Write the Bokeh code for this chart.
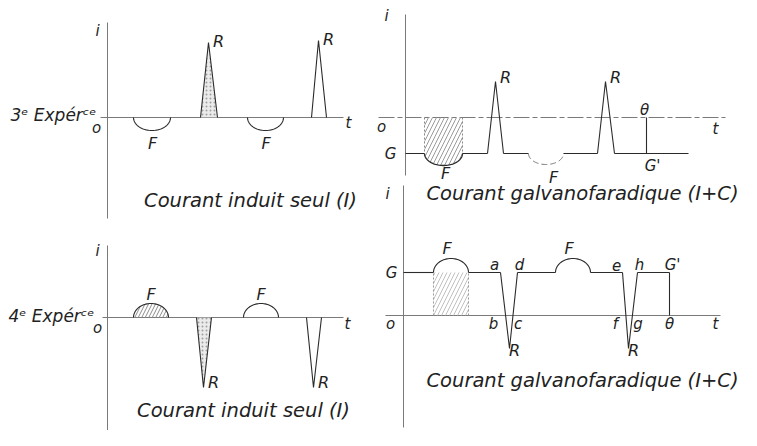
import numpy as np
from bokeh.plotting import figure
from bokeh.models import Range1d
from bokeh.core.properties import value
from bokeh.embed import file_html
from bokeh.resources import INLINE

# ---------------- data (time units, current units) ----------------
# 3e expérience - courant induit seul (I)
p1_F_center = [4.45, 15.8]
p1_F_half = [1.85, 1.8]
p1_F_amp = [-1.3, -1.3]
p1_R_start = [9.3, 20.4]
p1_R_peak = [10.1, 21.1]
p1_R_end = [11.0, 21.9]
p1_R_amp = [7.5, 7.7]
p1_t_axis = [-0.7, 23.6]
p1_i_axis = [-10.1, 9.5]

# 3e expérience - courant galvanofaradique (I+C)
p2_G = -3.6
p2_G_end = 28.3
p2_F_center = [3.8, 14.05]
p2_F_half = [1.9, 1.75]
p2_F_amp = [-1.2, -1.1]
p2_R_start = [8.2, 19.2]
p2_R_peak = [9.0, 20.0]
p2_R_end = [9.8, 20.9]
p2_R_top = [3.6, 3.6]
p2_theta = 24.1
p2_t_axis = [-2.7, 32.0]
p2_i_axis = [-5.8, 10.3]

# 4e expérience - courant induit seul (I)
p3_F_center = [4.35, 15.35]
p3_F_half = [1.75, 1.75]
p3_F_amp = [1.4, 1.4]
p3_R_start = [8.9, 19.9]
p3_R_peak = [9.6, 20.6]
p3_R_end = [10.4, 21.4]
p3_R_amp = [-7.0, -7.0]
p3_t_axis = [-0.5, 23.6]
p3_i_axis = [-12.3, 7.2]

# 4e expérience - courant galvanofaradique (I+C)
p4_G = 4.3
p4_F_center = [4.75, 16.95]
p4_F_half = [1.75, 1.75]
p4_F_amp = [1.4, 1.4]
p4_R_start = [9.7, 21.9]
p4_R_peak = [10.6, 22.5]
p4_R_end = [11.4, 23.4]
p4_R_bottom = [-3.3, -3.3]
p4_theta = 26.6
p4_t_axis = [-1.8, 31.7]
p4_i_axis = [-11.2, 13.0]
p4_R_top_labels = [("a", "d"), ("e", "h")]
p4_R_low_labels = [("b", "c"), ("f", "g")]

# ---------------- figure ----------------
W, H = 741, 430
p = figure(width=W, height=H, output_backend="svg", toolbar_location=None,
           x_range=Range1d(-10.7, 63.4), y_range=Range1d(-31.3, 11.7),
           min_border=0, outline_line_color=None)
p.axis.visible = False
p.grid.visible = False
p.extra_x_ranges = {"R2": Range1d(-40.5, 33.6), "R4": Range1d(-40.3, 33.8)}
p.extra_y_ranges = {"TR": Range1d(-31.3, 11.7), "BL": Range1d(-11.3, 31.7),
                    "BR": Range1d(-11.5, 31.5)}

INK = "#2b2b2b"
AXC = "#7a7a7a"
FONT = value("DejaVu Sans")


def half_ellipse(c, h, base, amp, n=48):
    th = np.linspace(0, np.pi, n)
    return c - h * np.cos(th), base + amp * np.sin(th)


def labels(xs, ys, txt, rn, size="15px", align="center", color="#222"):
    p.text(x=list(xs), y=list(ys), text=list(txt), text_font=FONT,
           text_font_style="italic", text_font_size=size, text_align=align,
           text_baseline="middle", text_color=color, **rn)


def axes(t_axis, i_axis, rn, dash="solid"):
    p.line(t_axis, [0, 0], line_color=AXC, line_width=1, line_dash=dash, **rn)
    p.line([0, 0], i_axis, line_color=AXC, line_width=1, **rn)


# ---------- panel 1 ----------
rn1 = dict(x_range_name="default", y_range_name="default")
axes(p1_t_axis, p1_i_axis, rn1)
for c, h, a in zip(p1_F_center, p1_F_half, p1_F_amp):
    ex, ey = half_ellipse(c, h, 0, a)
    p.line(ex, ey, line_color=INK, line_width=1.1, **rn1)
for k, (s, pk, e, a) in enumerate(zip(p1_R_start, p1_R_peak, p1_R_end, p1_R_amp)):
    if k == 0:
        p.patch([s, pk, e], [0, a, 0], fill_color="#e2e2e2", fill_alpha=0.7,
                hatch_pattern="dot", hatch_color="#a0a0a0", hatch_scale=4,
                line_color=None, **rn1)
    p.line([s, pk, e], [0, a, 0], line_color=INK, line_width=1.1, **rn1)
labels([-1.0, -1.1, 24.1], [8.7, -1.0, -0.5], ["i", "o", "t"], rn1)
labels([c + 0.05 for c in p1_F_center], [a - 1.3 for a in p1_F_amp], ["F", "F"], rn1, "16px")
labels([pk + 1.0 for pk in p1_R_peak], [a + 0.1 for a in p1_R_amp], ["R", "R"], rn1, "16px")
labels([-9.7], [0.3], ["3ᵉ Expérᶜᵉ"], rn1, "17px", align="left")
labels([14.3], [-8.3], ["Courant induit seul (I)"], rn1, "19.5px")

# ---------- panel 2 ----------
rn2 = dict(x_range_name="R2", y_range_name="TR")
axes(p2_t_axis, p2_i_axis, rn2, dash="16 3 5 3")
G = p2_G
# hatched galvanic+faradic region
c, h, a = p2_F_center[0], p2_F_half[0], p2_F_amp[0]
ex, ey = half_ellipse(c, h, G, a)
p.patch(np.concatenate([[c - h], ex, [c + h]]), np.concatenate([[0], ey, [0]]),
        fill_alpha=0, hatch_pattern="/", hatch_color="#9a9a9a", hatch_scale=8,
        hatch_weight=1, line_color=None, **rn2)
for xv in (c - h, c + h):
    p.line([xv, xv], [0, G], line_color="#888", line_dash="2 2", **rn2)
# signal at level G
segs_x, segs_y = [], []
cur = 0.0
f_arcs = [half_ellipse(cc, hh, G, aa) for cc, hh, aa in zip(p2_F_center, p2_F_half, p2_F_amp)]
events = sorted([(cc - hh, cc + hh, "F", k) for k, (cc, hh) in enumerate(zip(p2_F_center, p2_F_half))] +
                [(s, e, "R", k) for k, (s, e) in enumerate(zip(p2_R_start, p2_R_end))])
for s, e, kind, k in events:
    segs_x.append([cur, s]); segs_y.append([G, G])
    if kind == "R":
        segs_x.append([s, p2_R_peak[k], e]); segs_y.append([G, p2_R_top[k], G])
    cur = e
segs_x.append([cur, p2_G_end]); segs_y.append([G, G])
p.multi_line(segs_x, segs_y, line_color=INK, line_width=1.1, **rn2)
p.line(*f_arcs[0], line_color=INK, line_width=1.3, **rn2)
p.line(*f_arcs[1], line_color="#777", line_width=1.0, line_dash="6 3", **rn2)
p.line([p2_theta, p2_theta], [0, G], line_color=INK, line_width=1.1, **rn2)
labels([-1.9, -2.4, 31.0], [10.2, -0.9, -1.1], ["i", "o", "t"], rn2)
labels([-1.5], [G], ["G"], rn2, "15px")
labels([pk + 1.0 for pk in p2_R_peak], [t + 0.4 for t in p2_R_top], ["R", "R"], rn2, "16px")
labels([p2_F_center[0] + 0.2, p2_F_center[1] + 0.75], [G - 2.0, G - 2.4], ["F", "F"], rn2, "16px")
labels([p2_theta - 0.2, p2_theta + 0.6], [0.8, G - 1.2], ["θ", "G'"], rn2, "15px")
labels([17.7], [-7.6], ["Courant galvanofaradique (I+C)"], rn2, "19.5px")

# ---------- panel 3 ----------
rn3 = dict(x_range_name="default", y_range_name="BL")
axes(p3_t_axis, p3_i_axis, rn3)
for k, (c, h, a) in enumerate(zip(p3_F_center, p3_F_half, p3_F_amp)):
    ex, ey = half_ellipse(c, h, 0, a)
    if k == 0:
        p.patch(ex, ey, fill_alpha=0, hatch_pattern="/", hatch_color="#8c8c8c",
                hatch_scale=7, hatch_weight=1, line_color=None, **rn3)
    p.line(ex, ey, line_color=INK, line_width=1.1, **rn3)
for k, (s, pk, e, a) in enumerate(zip(p3_R_start, p3_R_peak, p3_R_end, p3_R_amp)):
    if k == 0:
        p.patch([s, pk, e], [0, a, 0], fill_color="#e2e2e2", fill_alpha=0.7,
                hatch_pattern="dot", hatch_color="#a0a0a0", hatch_scale=4,
                line_color=None, **rn3)
    p.line([s, pk, e], [0, a, 0], line_color=INK, line_width=1.1, **rn3)
labels([-1.0, -1.0, 24.0], [6.7, -1.0, -0.6], ["i", "o", "t"], rn3)
labels(p3_F_center, [a + 0.95 for a in p3_F_amp], ["F", "F"], rn3, "16px")
labels([pk + 1.0 for pk in p3_R_peak], [a + 0.5 for a in p3_R_amp], ["R", "R"], rn3, "16px")
labels([-9.9], [0.2], ["4ᵉ Expérᶜᵉ"], rn3, "17px", align="left")
labels([13.6], [-9.3], ["Courant induit seul (I)"], rn3, "19.5px")

# ---------- panel 4 ----------
rn4 = dict(x_range_name="R4", y_range_name="BR")
axes(p4_t_axis, p4_i_axis, rn4)
G = p4_G
c, h = p4_F_center[0], p4_F_half[0]
p.patch([c - h, c + h, c + h, c - h], [0, 0, G, G], fill_alpha=0,
        hatch_pattern="/", hatch_color="#b0b0b0", hatch_scale=8, hatch_weight=1,
        hatch_alpha=0.8, line_color=None, **rn4)
for xv in (c - h, c + h):
    p.line([xv, xv], [0, G], line_color="#999", line_dash="2 2", **rn4)
segs_x, segs_y = [], []
cur = 0.0
events = sorted([(cc - hh, cc + hh, "F", k) for k, (cc, hh) in enumerate(zip(p4_F_center, p4_F_half))] +
                [(s, e, "R", k) for k, (s, e) in enumerate(zip(p4_R_start, p4_R_end))])
for s, e, kind, k in events:
    segs_x.append([cur, s]); segs_y.append([G, G])
    if kind == "R":
        segs_x.append([s, p4_R_peak[k], e]); segs_y.append([G, p4_R_bottom[k], G])
    else:
        ex, ey = half_ellipse(p4_F_center[k], p4_F_half[k], G, p4_F_amp[k])
        segs_x.append(list(ex)); segs_y.append(list(ey))
    cur = e
segs_x.append([cur, p4_theta]); segs_y.append([G, G])
p.multi_line(segs_x, segs_y, line_color=INK, line_width=1.1, **rn4)
p.line([p4_theta, p4_theta], [0, G], line_color=INK, line_width=1.1, **rn4)
labels([-1.6, -1.3, 31.2], [12.2, -0.8, -0.8], ["i", "o", "t"], rn4)
labels([-1.2], [G], ["G"], rn4, "15px")
labels([cc - 0.4 for cc in p4_F_center], [G + a + 1.0 for a in p4_F_amp], ["F", "F"], rn4, "16px")
tx, ty, tt = [], [], []
for (s, e), (lt1, lt2), (lb1, lb2) in zip(zip(p4_R_start, p4_R_end), p4_R_top_labels, p4_R_low_labels):
    tx += [s - 0.6, e + 0.2, s - 0.7, e + 0.05]
    ty += [G + 0.8, G + 0.8, -0.8, -0.8]
    tt += [lt1, lt2, lb1, lb2]
labels(tx, ty, tt, rn4, "15px")
labels([pk + 0.5 for pk in p4_R_peak], [b - 0.2 for b in p4_R_bottom], ["R", "R"], rn4, "16px")
labels([p4_theta + 0.3, p4_theta], [G + 0.8, -0.8], ["G'", "θ"], rn4, "15px")
labels([17.9], [-6.5], ["Courant galvanofaradique (I+C)"], rn4, "19.5px")

open("out.html", "w").write(file_html(p, INLINE))
